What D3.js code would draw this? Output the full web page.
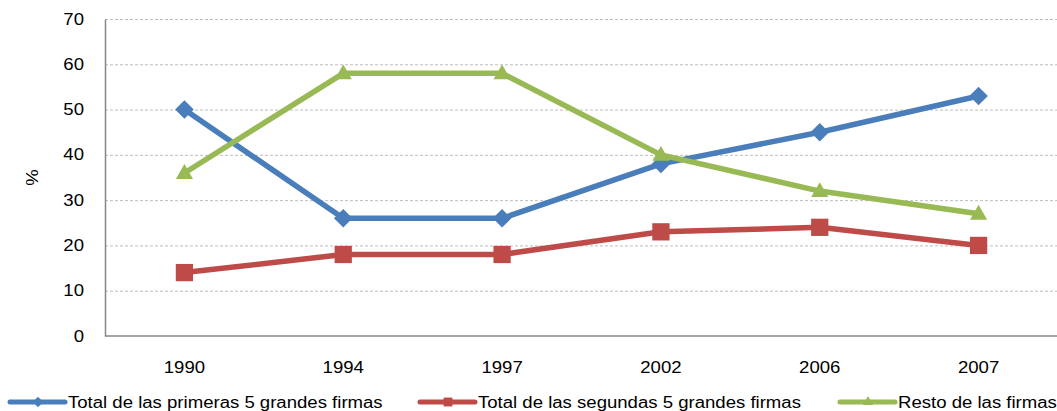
<!DOCTYPE html>
<html>
<head>
<meta charset="utf-8">
<script src="https://cdn.jsdelivr.net/npm/d3@7"></script>
<style>
  body { margin: 0; background: #fff; }
  svg { display: block; font-family: "Liberation Sans", Arial, sans-serif; }
</style>
</head>
<body>
<div id="chart"></div>
<script>
const years = ['1990', '1994', '1997', '2002', '2006', '2007'];
const primeras = [50, 26, 26, 38, 45, 53];
const segundas = [14, 18, 18, 23, 24, 20];
const resto = [36, 58, 58, 40, 32, 27];
const yTicks = [0, 10, 20, 30, 40, 50, 60, 70];

const series = [
  { name: 'Total de las primeras 5 grandes firmas', values: primeras, color: '#4A7EBB', symbol: d3.symbolDiamond2, size: 220, legendSize: 70 },
  { name: 'Total de las segundas 5 grandes firmas', values: segundas, color: '#BE4B48', symbol: d3.symbolSquare2, size: 380, legendSize: 100 },
  { name: 'Resto de las firmas', values: resto, color: '#98B954', symbol: d3.symbolTriangle2, size: 210, legendSize: 80 }
];

const width = 1057, height = 411;
const margin = { top: 19, right: 0, bottom: 75, left: 105 };
const stretch = 1.16; // reference text is a bit wider than Liberation Sans

const svg = d3.select('#chart').append('svg')
  .attr('width', width)
  .attr('height', height);

const x = d3.scaleBand().domain(years).range([margin.left, width + 1]);
const y = d3.scaleLinear().domain([0, 70]).range([height - margin.bottom, margin.top]);

// gridlines
svg.append('g')
  .selectAll('line')
  .data(yTicks.filter(t => t > 0))
  .join('line')
  .attr('x1', margin.left)
  .attr('x2', width)
  .attr('y1', d => y(d) + 0.5)
  .attr('y2', d => y(d) + 0.5)
  .attr('stroke', '#BDBDBD')
  .attr('stroke-dasharray', '3,2');

// axes
const yAxis = svg.append('g')
  .attr('transform', `translate(${margin.left},0)`)
  .call(d3.axisLeft(y).tickValues(yTicks).tickSize(0).tickPadding(21));
yAxis.select('.domain').attr('stroke', '#868686').attr('stroke-width', 1.5);
yAxis.selectAll('text').attr('font-size', 16).attr('fill', '#000')
  .style('font-family', '"Liberation Sans", Arial, sans-serif');

const xAxis = svg.append('g')
  .attr('transform', `translate(0,${y(0)})`)
  .call(d3.axisBottom(x).tickSize(0).tickPadding(26));
xAxis.select('.domain').attr('stroke', '#868686').attr('stroke-width', 1.5)
  .attr('d', `M${margin.left},0H${width}`);
xAxis.selectAll('text').attr('font-size', 16).attr('fill', '#000')
  .style('font-family', '"Liberation Sans", Arial, sans-serif');

// y label
svg.append('text')
  .attr('transform', `translate(38,${(y(0) + y(70)) / 2}) rotate(-90)`)
  .attr('text-anchor', 'middle')
  .attr('font-size', 16)
  .text('%');

const cx = d => x(d) + x.bandwidth() / 2;

const line = d3.line()
  .x((d, i) => cx(years[i]))
  .y(d => y(d));

series.forEach(s => {
  svg.append('path')
    .datum(s.values)
    .attr('fill', 'none')
    .attr('stroke', s.color)
    .attr('stroke-width', 5.5)
    .attr('stroke-linejoin', 'round')
    .attr('d', line);
});

series.forEach(s => {
  svg.append('g')
    .selectAll('path')
    .data(s.values)
    .join('path')
    .attr('d', d3.symbol().type(s.symbol).size(s.size)())
    .attr('transform', (d, i) => `translate(${cx(years[i])},${y(d) + (s.symbol === d3.symbolTriangle2 ? 1 : 0)})`)
    .attr('fill', s.color);
});

// legend
const legendX = [10, 420, 840];
const legend = svg.append('g');
series.forEach((s, i) => {
  const g = legend.append('g').attr('transform', `translate(${legendX[i]},402)`);
  g.append('line')
    .attr('x1', 0).attr('x2', 55)
    .attr('stroke', s.color)
    .attr('stroke-width', 5)
    .attr('stroke-linecap', 'round');
  g.append('path')
    .attr('d', d3.symbol().type(s.symbol).size(s.legendSize)())
    .attr('transform', 'translate(28,0)')
    .attr('fill', s.color);
  g.append('text')
    .attr('x', 58)
    .attr('y', 6)
    .attr('font-size', 16)
    .text(s.name);
});

// widen all text a little to match the reference face
svg.selectAll('text').each(function () {
  const w = this.getComputedTextLength();
  d3.select(this)
    .attr('textLength', w * stretch)
    .attr('lengthAdjust', 'spacingAndGlyphs');
});
</script>
</body>
</html>
